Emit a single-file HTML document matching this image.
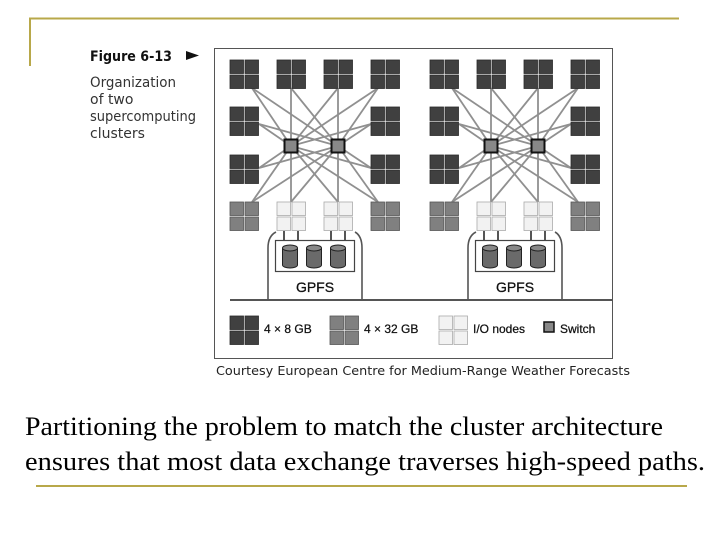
<!DOCTYPE html>
<html><head><meta charset="utf-8"><style>
html,body{margin:0;padding:0;background:#fff;}
svg{display:block;}
</style></head><body>
<svg width="720" height="540" viewBox="0 0 720 540" xmlns="http://www.w3.org/2000/svg">
<defs>
<g id="qd"><rect x="0" y="0" width="13.5" height="13.5" fill="#404040" stroke="#2a2a2a" stroke-width="0.8"/><rect x="15" y="0" width="13.5" height="13.5" fill="#404040" stroke="#2a2a2a" stroke-width="0.8"/><rect x="0" y="15" width="13.5" height="13.5" fill="#404040" stroke="#2a2a2a" stroke-width="0.8"/><rect x="15" y="15" width="13.5" height="13.5" fill="#404040" stroke="#2a2a2a" stroke-width="0.8"/></g>
<g id="qm"><rect x="0" y="0" width="13.5" height="13.5" fill="#808080" stroke="#555" stroke-width="0.8"/><rect x="15" y="0" width="13.5" height="13.5" fill="#808080" stroke="#555" stroke-width="0.8"/><rect x="0" y="15" width="13.5" height="13.5" fill="#808080" stroke="#555" stroke-width="0.8"/><rect x="15" y="15" width="13.5" height="13.5" fill="#808080" stroke="#555" stroke-width="0.8"/></g>
<g id="ql"><rect x="0" y="0" width="13.5" height="13.5" fill="#f2f2f2" stroke="#aaa" stroke-width="0.8"/><rect x="15" y="0" width="13.5" height="13.5" fill="#f2f2f2" stroke="#aaa" stroke-width="0.8"/><rect x="0" y="15" width="13.5" height="13.5" fill="#f2f2f2" stroke="#aaa" stroke-width="0.8"/><rect x="15" y="15" width="13.5" height="13.5" fill="#f2f2f2" stroke="#aaa" stroke-width="0.8"/></g>
<g id="cyl"><path d="M-7.5,0 v17 a7.5,3 0 0 0 15,0 v-17" fill="#6a6a6a" stroke="#222" stroke-width="1"/><ellipse cx="0" cy="0" rx="7.5" ry="3" fill="#888" stroke="#222" stroke-width="1"/></g>
<g id="cluster">
<g stroke="#909090" stroke-width="1.8" fill="none">
<line x1="291" y1="146" x2="252" y2="88"/><line x1="291" y1="146" x2="291" y2="88"/><line x1="291" y1="146" x2="338" y2="88"/><line x1="291" y1="146" x2="378" y2="88"/>
<line x1="291" y1="146" x2="259" y2="124"/><line x1="291" y1="146" x2="259" y2="168"/><line x1="291" y1="146" x2="371" y2="124"/><line x1="291" y1="146" x2="371" y2="168"/>
<line x1="291" y1="146" x2="252" y2="202"/><line x1="291" y1="146" x2="291" y2="202"/><line x1="291" y1="146" x2="338" y2="202"/><line x1="291" y1="146" x2="378" y2="202"/>
<line x1="338" y1="146" x2="252" y2="88"/><line x1="338" y1="146" x2="291" y2="88"/><line x1="338" y1="146" x2="338" y2="88"/><line x1="338" y1="146" x2="378" y2="88"/>
<line x1="338" y1="146" x2="259" y2="124"/><line x1="338" y1="146" x2="259" y2="168"/><line x1="338" y1="146" x2="371" y2="124"/><line x1="338" y1="146" x2="371" y2="168"/>
<line x1="338" y1="146" x2="252" y2="202"/><line x1="338" y1="146" x2="291" y2="202"/><line x1="338" y1="146" x2="338" y2="202"/><line x1="338" y1="146" x2="378" y2="202"/>
</g>
<use href="#qd" x="230" y="60"/><use href="#qd" x="277" y="60"/><use href="#qd" x="324" y="60"/><use href="#qd" x="371" y="60"/>
<use href="#qd" x="230" y="107"/><use href="#qd" x="371" y="107"/>
<use href="#qd" x="230" y="155"/><use href="#qd" x="371" y="155"/>
<use href="#qm" x="230" y="202"/><use href="#ql" x="277" y="202"/><use href="#ql" x="324" y="202"/><use href="#qm" x="371" y="202"/>
<rect x="284.5" y="139.5" width="13" height="13" fill="#888" stroke="#111" stroke-width="2"/>
<rect x="331.5" y="139.5" width="13" height="13" fill="#888" stroke="#111" stroke-width="2"/>
<path d="M268,300 V248 Q268,236 276,232 M362,300 V248 Q362,236 355,232" fill="none" stroke="#555" stroke-width="1.6"/>
<g stroke="#555" stroke-width="2"><line x1="284" y1="231" x2="284" y2="241"/><line x1="298" y1="231" x2="298" y2="241"/><line x1="331" y1="231" x2="331" y2="241"/><line x1="345" y1="231" x2="345" y2="241"/></g>
<rect x="275.5" y="240.5" width="79" height="31" fill="#fff" stroke="#444" stroke-width="1.2"/>
<use href="#cyl" x="290" y="248"/><use href="#cyl" x="314" y="248"/><use href="#cyl" x="338" y="248"/>
<text x="315" y="292" text-anchor="middle" font-family="Liberation Sans, sans-serif" font-size="14" fill="#111" stroke="#111" stroke-width="0.3">GPFS</text>
</g>
</defs>
<line x1="29" y1="18.5" x2="679" y2="18.5" stroke="#b8a84a" stroke-width="2"/>
<line x1="30" y1="18" x2="30" y2="66" stroke="#b8a84a" stroke-width="2"/>
<line x1="36" y1="486" x2="687" y2="486" stroke="#b8a84a" stroke-width="2"/>
<text x="90" y="61" font-family="DejaVu Sans, sans-serif" font-size="14" font-weight="bold" fill="#111" textLength="82" lengthAdjust="spacingAndGlyphs">Figure 6-13</text>
<polygon points="186,51 199,55.5 186,60" fill="#111"/>
<g font-family="DejaVu Sans, sans-serif" font-size="14" fill="#333">
<text x="90" y="87" textLength="86" lengthAdjust="spacingAndGlyphs">Organization</text><text x="90" y="104">of two</text><text x="90" y="121" textLength="106" lengthAdjust="spacingAndGlyphs">supercomputing</text><text x="90" y="138">clusters</text>
</g>
<rect x="214.5" y="48.5" width="398" height="310" fill="#fff" stroke="#555" stroke-width="1"/>
<use href="#cluster"/>
<use href="#cluster" x="200"/>
<line x1="230" y1="300" x2="612" y2="300" stroke="#555" stroke-width="2"/>
<g font-family="Liberation Sans, sans-serif" font-size="12" fill="#111" stroke="#111" stroke-width="0.25">
<text x="264" y="333">4 × 8 GB</text>
<text x="364" y="333">4 × 32 GB</text>
<text x="473" y="333">I/O nodes</text>
<text x="560" y="333">Switch</text>
</g>
<use href="#qd" x="230" y="316"/>
<use href="#qm" x="330" y="316"/>
<use href="#ql" x="439" y="316"/>
<rect x="544" y="322" width="10" height="10" fill="#888" stroke="#111" stroke-width="1.5"/>
<text x="216" y="375" font-family="DejaVu Sans, sans-serif" font-size="12" fill="#222" textLength="414" lengthAdjust="spacingAndGlyphs">Courtesy European Centre for Medium-Range Weather Forecasts</text>
<g font-family="Liberation Serif, serif" font-size="26" fill="#000">
<text x="25" y="435" textLength="638" lengthAdjust="spacingAndGlyphs">Partitioning the problem to match the cluster architecture</text>
<text x="25" y="470" textLength="680" lengthAdjust="spacingAndGlyphs">ensures that most data exchange traverses high-speed paths.</text>
</g>
</svg>
</body></html>
